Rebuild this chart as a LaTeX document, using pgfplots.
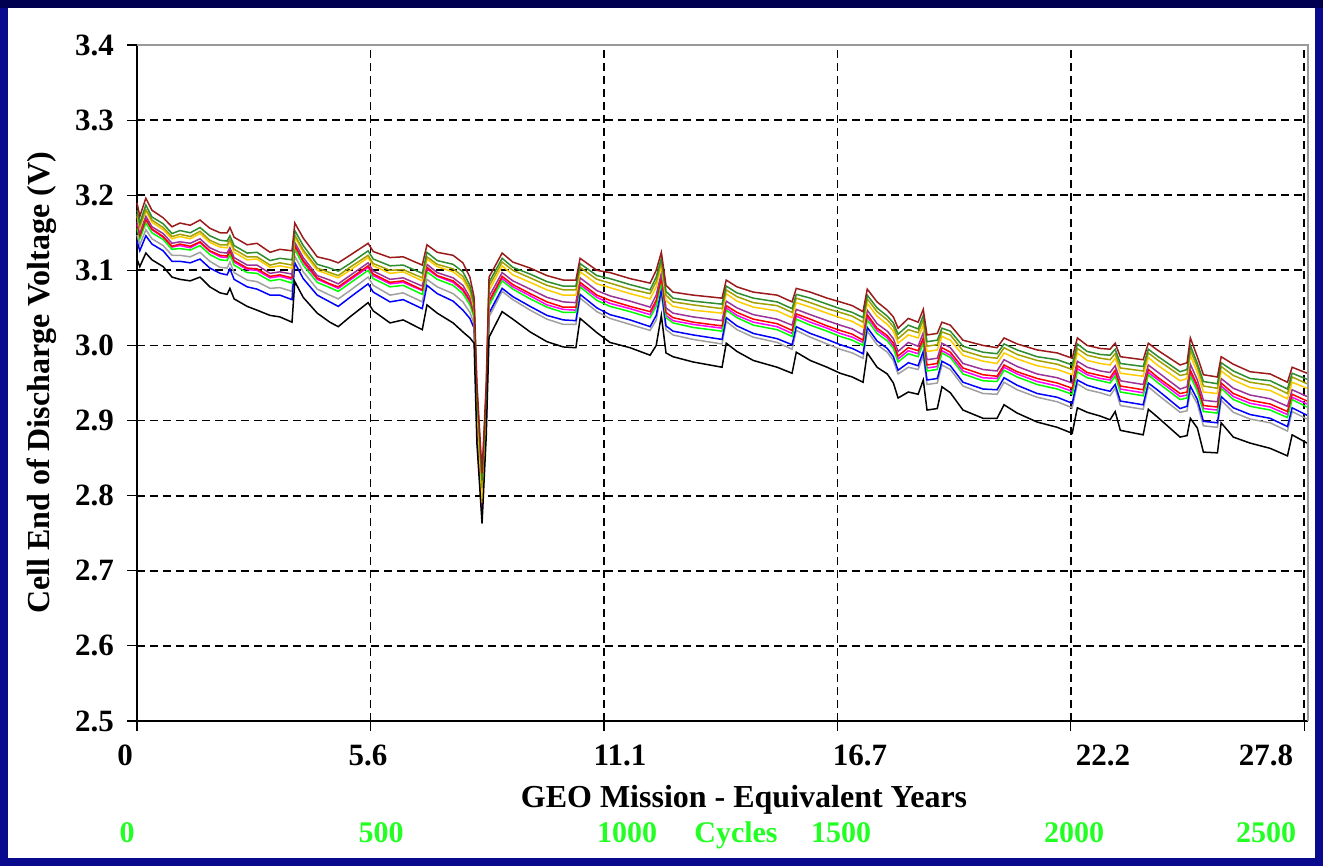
\documentclass[border=0pt]{standalone}
\usepackage{fontspec}
\setmainfont{Liberation Serif}
\usepackage{pgfplots}
\usepackage{pgfplotstable}
\pgfplotsset{compat=1.18}

\definecolor{frameblue}{HTML}{0A0A8F}
\definecolor{framedark}{HTML}{000050}
\definecolor{cdr}{HTML}{9B1B1B}
\definecolor{cgn}{HTML}{2E8B2E}
\definecolor{col}{HTML}{A0A000}
\definecolor{cgd}{HTML}{FFCC00}
\definecolor{cpu}{HTML}{993399}
\definecolor{crd}{HTML}{FF0000}
\definecolor{cmg}{HTML}{FF00FF}
\definecolor{clm}{HTML}{00FF00}
\definecolor{cbl}{HTML}{0000FF}
\definecolor{cgy}{HTML}{A0A0A0}
\definecolor{cyclegreen}{HTML}{22FF22}

% cell end-of-discharge voltage (x = cycles)
\pgfplotstableread{
cyc dr gn ol gd pu rd mg lm gy bl bk
0 3.190 3.180 3.175 3.172 3.165 3.162 3.160 3.156 3.147 3.139 3.115
6 3.172 3.163 3.159 3.156 3.150 3.146 3.145 3.142 3.134 3.126 3.105
19 3.196 3.187 3.181 3.179 3.172 3.168 3.167 3.163 3.154 3.146 3.123
32 3.180 3.171 3.167 3.164 3.158 3.155 3.154 3.150 3.142 3.135 3.114
56 3.170 3.162 3.157 3.154 3.149 3.145 3.144 3.141 3.133 3.126 3.105
75 3.158 3.149 3.145 3.142 3.136 3.132 3.131 3.128 3.120 3.112 3.091
92 3.163 3.153 3.148 3.145 3.138 3.135 3.133 3.129 3.120 3.112 3.088
114 3.160 3.150 3.145 3.142 3.136 3.132 3.130 3.127 3.118 3.110 3.086
135 3.167 3.157 3.152 3.149 3.142 3.138 3.137 3.133 3.124 3.115 3.091
156 3.156 3.146 3.140 3.137 3.130 3.126 3.125 3.121 3.112 3.103 3.078
178 3.150 3.140 3.134 3.131 3.124 3.120 3.118 3.114 3.104 3.096 3.070
193 3.150 3.139 3.134 3.130 3.123 3.119 3.117 3.113 3.103 3.094 3.068
199 3.157 3.146 3.141 3.138 3.130 3.126 3.125 3.121 3.111 3.102 3.076
208 3.144 3.133 3.128 3.124 3.117 3.113 3.111 3.107 3.097 3.088 3.062
236 3.134 3.123 3.118 3.114 3.107 3.103 3.101 3.097 3.087 3.078 3.052
257 3.136 3.124 3.118 3.115 3.107 3.102 3.100 3.096 3.085 3.075 3.047
285 3.124 3.113 3.107 3.104 3.096 3.092 3.090 3.086 3.076 3.067 3.040
306 3.128 3.116 3.110 3.106 3.098 3.094 3.092 3.088 3.077 3.067 3.038
332 3.126 3.114 3.107 3.103 3.095 3.090 3.088 3.083 3.072 3.061 3.031
338 3.163 3.153 3.147 3.144 3.137 3.133 3.132 3.128 3.119 3.110 3.085
356 3.143 3.133 3.127 3.124 3.117 3.113 3.111 3.107 3.098 3.089 3.064
386 3.118 3.108 3.103 3.100 3.093 3.090 3.088 3.084 3.075 3.067 3.043
413 3.114 3.103 3.097 3.094 3.087 3.082 3.081 3.077 3.067 3.058 3.031
431 3.110 3.099 3.093 3.090 3.082 3.078 3.076 3.072 3.062 3.052 3.025
456 3.120 3.109 3.104 3.100 3.093 3.089 3.087 3.083 3.073 3.064 3.038
495 3.136 3.126 3.120 3.117 3.110 3.106 3.104 3.100 3.091 3.082 3.057
506 3.125 3.115 3.109 3.106 3.099 3.095 3.093 3.089 3.080 3.071 3.046
542 3.117 3.106 3.100 3.096 3.088 3.084 3.082 3.078 3.067 3.058 3.030
570 3.118 3.107 3.101 3.098 3.090 3.086 3.084 3.080 3.070 3.061 3.034
611 3.107 3.096 3.090 3.086 3.079 3.074 3.073 3.068 3.058 3.049 3.021
621 3.134 3.124 3.118 3.115 3.108 3.104 3.102 3.098 3.088 3.080 3.054
643 3.124 3.113 3.108 3.105 3.097 3.093 3.092 3.088 3.078 3.069 3.043
677 3.120 3.108 3.102 3.098 3.090 3.086 3.084 3.080 3.069 3.059 3.030
698 3.110 3.098 3.092 3.088 3.080 3.075 3.073 3.069 3.058 3.047 3.018
713 3.091 3.080 3.075 3.071 3.064 3.060 3.058 3.054 3.044 3.036 3.010
722 3.064 3.056 3.052 3.049 3.044 3.041 3.040 3.037 3.029 3.023 3.003
728 2.950 2.940 2.930 2.920 2.920 2.910 2.910 2.910 2.900 2.900 2.870
739 2.830 2.820 2.810 2.790 2.800 2.800 2.785 2.800 2.780 2.790 2.763
748 2.950 2.940 2.930 2.920 2.920 2.920 2.910 2.920 2.900 2.910 2.880
754 3.091 3.084 3.079 3.073 3.065 3.059 3.056 3.053 3.038 3.043 3.011
782 3.123 3.116 3.111 3.106 3.097 3.092 3.089 3.086 3.072 3.076 3.045
805 3.111 3.104 3.100 3.094 3.086 3.081 3.078 3.075 3.061 3.065 3.035
842 3.103 3.095 3.090 3.084 3.075 3.069 3.066 3.062 3.047 3.052 3.018
878 3.093 3.085 3.080 3.074 3.064 3.058 3.054 3.051 3.035 3.040 3.005
913 3.087 3.079 3.074 3.067 3.058 3.051 3.048 3.044 3.028 3.034 2.998
940 3.087 3.079 3.074 3.067 3.057 3.051 3.047 3.044 3.028 3.033 2.997
949 3.116 3.109 3.104 3.098 3.090 3.084 3.081 3.078 3.063 3.068 3.036
985 3.100 3.093 3.088 3.082 3.073 3.067 3.064 3.060 3.045 3.050 3.017
1013 3.097 3.089 3.083 3.077 3.066 3.060 3.056 3.052 3.036 3.041 3.004
1056 3.089 3.081 3.075 3.069 3.059 3.052 3.049 3.045 3.028 3.034 2.997
1099 3.083 3.074 3.069 3.062 3.051 3.045 3.041 3.037 3.020 3.025 2.987
1112 3.100 3.091 3.085 3.078 3.067 3.060 3.056 3.052 3.034 3.040 3.000
1123 3.124 3.116 3.111 3.106 3.096 3.090 3.087 3.084 3.069 3.074 3.040
1133 3.080 3.072 3.067 3.060 3.050 3.044 3.040 3.037 3.021 3.026 2.990
1148 3.071 3.063 3.058 3.052 3.043 3.037 3.033 3.030 3.014 3.019 2.985
1191 3.067 3.059 3.054 3.047 3.038 3.031 3.028 3.024 3.008 3.014 2.978
1253 3.063 3.055 3.049 3.043 3.033 3.026 3.023 3.019 3.002 3.008 2.971
1262 3.087 3.079 3.074 3.069 3.059 3.053 3.050 3.047 3.032 3.037 3.003
1285 3.078 3.070 3.065 3.059 3.050 3.044 3.040 3.037 3.021 3.026 2.992
1320 3.071 3.063 3.057 3.051 3.041 3.035 3.031 3.027 3.011 3.016 2.980
1371 3.067 3.058 3.053 3.046 3.035 3.029 3.025 3.021 3.004 3.009 2.971
1403 3.058 3.049 3.044 3.037 3.027 3.020 3.016 3.012 2.995 3.001 2.963
1412 3.076 3.068 3.063 3.057 3.048 3.042 3.039 3.035 3.020 3.025 2.991
1442 3.071 3.063 3.057 3.051 3.041 3.035 3.031 3.027 3.011 3.016 2.980
1478 3.063 3.055 3.049 3.043 3.033 3.026 3.023 3.019 3.002 3.008 2.971
1506 3.058 3.049 3.044 3.037 3.027 3.020 3.016 3.012 2.995 3.001 2.963
1532 3.053 3.044 3.039 3.032 3.022 3.015 3.011 3.007 2.990 2.996 2.958
1555 3.045 3.037 3.031 3.024 3.014 3.007 3.004 3.000 2.983 2.989 2.951
1564 3.075 3.067 3.062 3.056 3.047 3.041 3.038 3.034 3.019 3.024 2.990
1585 3.058 3.050 3.045 3.039 3.029 3.023 3.020 3.016 3.001 3.006 2.971
1607 3.047 3.039 3.034 3.028 3.019 3.013 3.010 3.006 2.991 2.996 2.962
1620 3.038 3.030 3.025 3.019 3.009 3.003 2.999 2.996 2.980 2.985 2.950
1630 3.023 3.015 3.009 3.003 2.992 2.986 2.982 2.978 2.962 2.967 2.930
1652 3.036 3.027 3.021 3.014 3.004 2.997 2.993 2.989 2.971 2.977 2.938
1673 3.031 3.022 3.017 3.010 2.999 2.993 2.989 2.985 2.968 2.973 2.935
1684 3.048 3.040 3.034 3.027 3.017 3.010 3.007 3.003 2.986 2.992 2.954
1692 3.014 3.005 2.999 2.992 2.981 2.974 2.970 2.966 2.948 2.954 2.914
1714 3.016 3.007 3.001 2.994 2.983 2.976 2.972 2.968 2.950 2.956 2.916
1724 3.031 3.023 3.018 3.012 3.003 2.997 2.993 2.990 2.974 2.979 2.945
1742 3.027 3.019 3.014 3.007 2.997 2.991 2.987 2.984 2.968 2.973 2.937
1769 3.007 2.999 2.993 2.987 2.976 2.970 2.966 2.962 2.946 2.951 2.914
1812 3.000 2.991 2.985 2.979 2.968 2.961 2.957 2.953 2.936 2.942 2.903
1842 2.997 2.989 2.983 2.976 2.966 2.959 2.956 2.952 2.935 2.941 2.903
1857 3.010 3.002 2.997 2.990 2.981 2.974 2.971 2.967 2.951 2.957 2.921
1885 3.002 2.994 2.988 2.982 2.972 2.965 2.962 2.958 2.941 2.947 2.910
1928 2.994 2.985 2.980 2.973 2.962 2.956 2.952 2.948 2.931 2.936 2.898
1971 2.990 2.981 2.975 2.968 2.957 2.950 2.946 2.942 2.925 2.931 2.891
2003 2.983 2.974 2.968 2.961 2.950 2.943 2.939 2.935 2.917 2.923 2.883
2014 3.010 3.002 2.996 2.990 2.979 2.973 2.969 2.965 2.949 2.954 2.917
2035 3.000 2.992 2.987 2.980 2.971 2.964 2.961 2.957 2.941 2.947 2.911
2063 2.996 2.988 2.983 2.976 2.966 2.960 2.956 2.953 2.937 2.942 2.906
2084 2.995 2.987 2.981 2.974 2.964 2.957 2.954 2.950 2.933 2.939 2.901
2095 3.003 2.995 2.989 2.983 2.973 2.967 2.963 2.959 2.943 2.948 2.912
2106 2.985 2.976 2.970 2.963 2.953 2.946 2.942 2.938 2.920 2.926 2.887
2155 2.981 2.972 2.966 2.959 2.948 2.941 2.937 2.933 2.915 2.921 2.881
2166 3.003 2.995 2.990 2.984 2.974 2.968 2.964 2.961 2.945 2.950 2.915
2185 2.994 2.986 2.981 2.974 2.965 2.958 2.955 2.951 2.935 2.941 2.905
2234 2.974 2.965 2.960 2.953 2.942 2.936 2.932 2.928 2.911 2.916 2.878
2249 2.977 2.968 2.962 2.956 2.945 2.938 2.934 2.930 2.913 2.919 2.880
2256 3.010 3.000 2.994 2.987 2.975 2.967 2.963 2.959 2.939 2.946 2.903
2271 2.985 2.976 2.971 2.964 2.954 2.947 2.943 2.939 2.922 2.928 2.890
2284 2.961 2.952 2.946 2.938 2.927 2.920 2.916 2.912 2.893 2.899 2.858
2314 2.958 2.949 2.943 2.936 2.925 2.918 2.914 2.910 2.891 2.897 2.857
2322 2.985 2.977 2.972 2.966 2.956 2.950 2.946 2.943 2.927 2.932 2.897
2348 2.975 2.966 2.960 2.954 2.943 2.936 2.932 2.928 2.911 2.917 2.878
2384 2.965 2.956 2.951 2.944 2.934 2.927 2.923 2.919 2.902 2.908 2.870
2427 2.962 2.953 2.947 2.940 2.929 2.922 2.918 2.914 2.897 2.903 2.863
2464 2.951 2.942 2.936 2.929 2.919 2.912 2.908 2.904 2.886 2.892 2.853
2474 2.971 2.963 2.958 2.951 2.941 2.935 2.931 2.928 2.912 2.917 2.881
2506 2.963 2.955 2.949 2.943 2.932 2.926 2.922 2.918 2.902 2.907 2.870
}\cells

\newcommand\tickfont{\bfseries\fontsize{15.5}{18}\selectfont}
\newcommand\labfont{\bfseries\fontsize{16}{19}\selectfont}
\newcommand\cycfont{\bfseries\fontsize{15}{18}\selectfont}

\begin{document}
\begin{tikzpicture}
% slide frame, 1 px = 0.5pt
\useasboundingbox (0,0) rectangle (661.5pt,-433pt);
\fill[frameblue] (0,0) rectangle (661.5pt,-433pt);
\fill[framedark] (0,0) rectangle (661.5pt,-4pt);
\fill[white] (4pt,-4pt) rectangle (657.5pt,-429pt);

\begin{axis}[
  name=ax,
  at={(68.5pt,-360.5pt)}, anchor=south west,
  scale only axis, width=585.5pt, height=338pt,
  xmin=0, xmax=2508, ymin=2.5, ymax=3.4,
  xtick={0,500,1000,1500,2000,2500},
  xticklabels={},
  ytick={2.5,2.6,2.7,2.8,2.9,3.0,3.1,3.2,3.3,3.4},
  yticklabels={2.5,2.6,2.7,2.8,2.9,3.0,3.1,3.2,3.3,3.4},
  axis x line*=bottom, axis y line*=left,
  x axis line style={-, black, line width=0.6pt},
  y axis line style={-, black, line width=1pt},
  tick align=outside, major tick length=5pt,
  tick style={black, line width=0.6pt},
  ticklabel style={font=\tickfont},
  yticklabel style={xshift=-3pt},
  grid=major,
  major grid style={black, line width=0.85pt, dash pattern=on 4pt off 2.5pt},
  every axis plot/.append style={line width=0.75pt, mark=none},
  clip=false,
]
\addplot[cgy] table[x=cyc, y=gy] {\cells};
\addplot[cbl] table[x=cyc, y=bl] {\cells};
\addplot[cmg] table[x=cyc, y=mg] {\cells};
\addplot[clm] table[x=cyc, y=lm] {\cells};
\addplot[crd] table[x=cyc, y=rd] {\cells};
\addplot[cpu] table[x=cyc, y=pu] {\cells};
\addplot[cgd] table[x=cyc, y=gd] {\cells};
\addplot[col] table[x=cyc, y=ol] {\cells};
\addplot[cgn] table[x=cyc, y=gn] {\cells};
\addplot[cdr] table[x=cyc, y=dr] {\cells};
\addplot[black] table[x=cyc, y=bk] {\cells};
\end{axis}

% top and right frame lines of the plot area
\draw[gray!80, line width=0.6pt] (ax.north west) -- (ax.north east) -- (ax.south east);

% year labels under the ticks
\begin{scope}[every node/.style={font=\tickfont, anchor=base, inner sep=0pt}]
\node at (62.5pt,-382.5pt) {0};
\node at (184pt,-382.5pt) {5.6};
\node at (310pt,-382.5pt) {11.1};
\node at (430pt,-382.5pt) {16.7};
\node at (551.5pt,-382.5pt) {22.2};
\node at (633pt,-382.5pt) {27.8};
\end{scope}

% axis titles
\node[font=\labfont, rotate=90] at (21pt,-191.5pt) {Cell End of Discharge Voltage (V)};
\node[font=\labfont, anchor=base, inner sep=0pt] at (372pt,-403.5pt) {GEO Mission - Equivalent Years};

% cycle scale
\begin{scope}[every node/.style={font=\cycfont, text=cyclegreen, anchor=base, inner sep=0pt}]
\node at (63.5pt,-421pt) {0};
\node at (190.5pt,-421pt) {500};
\node at (313.5pt,-421pt) {1000};
\node at (368pt,-421pt) {Cycles};
\node at (420.5pt,-421pt) {1500};
\node at (537pt,-421pt) {2000};
\node at (633pt,-421pt) {2500};
\end{scope}
\end{tikzpicture}
\end{document}
